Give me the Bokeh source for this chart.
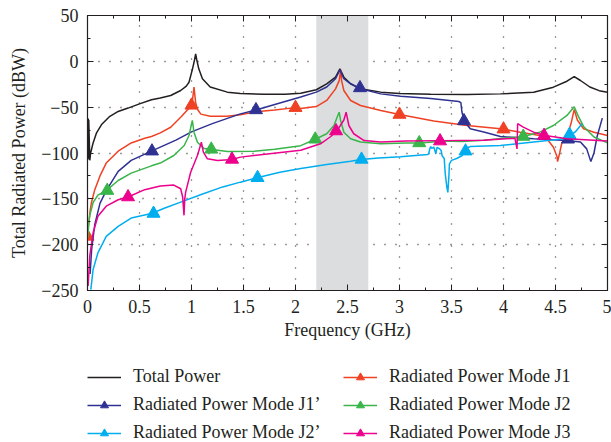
from bokeh.plotting import figure
from bokeh.layouts import column
from bokeh.models import (FixedTicker, LinearAxis, Legend, LegendItem, BoxAnnotation,
                          NumeralTickFormatter, Range1d, CustomJSTickFormatter)
from bokeh.embed import file_html
from bokeh.resources import INLINE

# ---------------- data ----------------
total_f = [0.004, 0.006, 0.008, 0.010, 0.012, 0.022, 0.03, 0.054, 0.087, 0.135, 0.215, 0.295,
           0.39, 0.5, 0.615, 0.70, 0.80, 0.896, 0.95, 0.976, 1.01, 1.03, 1.04, 1.05, 1.07, 1.105,
           1.18, 1.345, 1.47, 1.7, 1.9, 2.05, 2.20, 2.30, 2.385, 2.427, 2.465, 2.53, 2.625, 2.82,
           3.0, 3.3, 3.65, 3.97, 4.29, 4.48, 4.61, 4.68, 4.74, 4.83, 4.92, 5.0]
total_db = [-62, -107, -63, -106, -64, -108, -100, -89, -78, -69, -60, -54.7,
            -51, -46.4, -42, -40, -37.3, -31.8, -27, -22.8, -8.2, 2, 8.2, 2, -8.2, -19,
            -28, -33.6, -35, -36, -35.8, -34.8, -31, -24.5, -17.3, -8.2, -17.3, -24.5, -30, -33.6,
            -35, -36, -36.2, -35.5, -33.7, -28.2, -21.7, -16.6, -20.9, -28, -32, -33.7]

j1_f = [0.0, 0.004, 0.013, 0.025, 0.038, 0.07, 0.12, 0.18, 0.295, 0.42, 0.55, 0.615, 0.70, 0.80,
        0.896, 0.96, 0.99, 1.01, 1.024, 1.04, 1.057, 1.09, 1.18, 1.34, 1.47, 1.62, 1.8, 2.0, 2.05,
        2.20, 2.30, 2.385, 2.42, 2.435, 2.443, 2.465, 2.53, 2.625, 2.82, 3.0, 3.33, 3.65, 3.97,
        4.16, 4.35, 4.43, 4.48, 4.515, 4.52, 4.54, 4.56, 4.61, 4.65, 4.68, 4.71, 4.77, 4.87, 5.0]
j1_db = [-192, -185, -176, -163, -154, -140, -125, -111, -98, -89, -84, -82, -78, -71.9,
         -61, -53, -50, -42, -28.2, -45, -52.3, -57.6, -60, -60, -58.4, -55, -53, -50.5, -51.5,
         -49.3, -42.7, -30, -21, -9.3, -21, -31.8, -42.7, -48.2, -53.6, -58, -65, -70, -73.6,
         -77.3, -80.9, -86.4, -93.7, -104, -109.4, -100, -89.4, -82, -67.6, -52.4, -64, -73.6,
         -77.3, -80.9]
j1_mx = [0.0, 1.0, 2.0, 3.0, 4.0]
j1_my = [-191, -48, -50.5, -58, -74]

j1p_f = [0.025, 0.04, 0.07, 0.12, 0.18, 0.295, 0.42, 0.615, 0.70, 0.85, 1.0, 1.2, 1.47, 1.62,
         1.8, 2.05, 2.20, 2.30, 2.385, 2.427, 2.465, 2.53, 2.625, 2.82, 3.01, 3.3, 3.57, 3.59,
         3.60, 3.62, 3.68, 3.81, 3.97, 4.29, 4.61, 4.74, 4.80, 4.84, 4.87, 4.90, 4.95]
j1p_db = [-232, -205, -178, -155, -141, -120, -108, -98, -93.6, -86, -77, -68, -57.3, -53,
          -47, -39, -33.6, -28, -19, -9.3, -19, -24.5, -30, -35.5, -38, -40.5, -43.8, -45,
          -55, -64.5, -73.6, -77, -82, -84.5, -86.4, -88, -95.5, -109.4, -100, -82, -62]
j1p_mx = [0.62, 1.62, 2.62, 3.62, 4.62]
j1p_my = [-98, -53, -29, -65, -85]

j2_f = [0.004, 0.01, 0.022, 0.054, 0.1, 0.18, 0.295, 0.42, 0.615, 0.70, 0.83, 0.93, 0.976,
        1.008, 1.024, 1.057, 1.12, 1.18, 1.345, 1.6, 1.8, 2.05, 2.19, 2.30, 2.37, 2.40, 2.42,
        2.434, 2.465, 2.53, 2.625, 2.82, 3.06, 3.2, 3.43, 3.6, 3.81, 4.0, 4.19, 4.35, 4.48,
        4.61, 4.68, 4.72, 4.77, 4.87, 5.0]
j2_db = [-192, -180, -168, -154, -146, -141, -130, -122, -114, -111, -102.7, -91.8, -80.9,
         -64.5, -77.3, -88.2, -95, -96, -98.4, -98, -96, -92, -85, -79, -70, -61, -55.5,
         -64.7, -77.3, -84.5, -88, -90, -89, -89, -87, -87.5, -86, -84, -82, -77.3, -70,
         -59, -49.5, -60, -71, -82.6, -89]
j2_mx = [0.19, 1.19, 2.19, 3.19, 4.19]
j2_my = [-141, -96, -85, -89, -82]

j2p_f = [0.032, 0.054, 0.1, 0.18, 0.295, 0.42, 0.615, 0.744, 0.896, 1.1, 1.3, 1.47, 1.63, 1.85,
         2.05, 2.3, 2.53, 2.63, 2.8, 3.01, 3.27, 3.28, 3.29, 3.30, 3.31, 3.33, 3.35, 3.36, 3.38,
         3.40, 3.41, 3.43, 3.44, 3.455, 3.465, 3.475, 3.48, 3.5, 3.55, 3.6, 3.63, 3.66, 3.68,
         3.97, 4.29, 4.58, 4.64, 4.69, 4.755]
j2p_db = [-249, -227, -209, -191, -180, -171, -166, -160, -153.6, -145, -137, -131.8, -127, -121,
          -117, -112.5, -109, -107, -105.5, -104, -101.6, -101, -96, -93, -95, -93.5, -101, -94,
          -95, -97, -103, -106, -122.7, -137, -143, -125, -112, -108, -106, -103, -99, -94, -93,
          -91.8, -88, -84.5, -81, -77, -68]
j2p_mx = [0.635, 1.635, 2.635, 3.635, 4.635]
j2p_my = [-166, -127, -107, -98, -80]

j3_f = [0.006, 0.022, 0.054, 0.1, 0.18, 0.295, 0.39, 0.55, 0.70, 0.83, 0.896, 0.915, 0.928,
        0.935, 0.944, 0.992, 1.057, 1.095, 1.114, 1.153, 1.25, 1.39, 1.47, 1.73, 2.05, 2.24,
        2.34, 2.40, 2.465, 2.487, 2.513, 2.56, 2.66, 2.82, 3.06, 3.4, 3.81, 4.11, 4.13, 4.136,
        4.19, 4.29, 4.40, 4.61, 5.0]
j3_db = [-245, -212, -187, -169, -158, -151, -148, -140, -136, -135, -139, -148, -168,
         -150, -142.7, -121, -102.7, -88.2, -99, -106.3, -108.2, -107, -104.5, -101, -97, -90,
         -82, -75.5, -64, -55.5, -70, -79, -86.4, -88, -87, -86.5, -86, -84, -95.5, -68,
         -71.8, -77.3, -81, -84.5, -87]
j3_mx = [0.39, 1.39, 2.39, 3.39, 4.39]
j3_my = [-148, -107, -76, -87, -81]

band_left, band_right = 2.2, 2.7

x_ticks = [0, 0.5, 1, 1.5, 2, 2.5, 3, 3.5, 4, 4.5, 5]
x_minor = [i * 0.25 for i in range(21)]
y_ticks = [-250, -200, -150, -100, -50, 0, 50]
y_minor = list(range(-250, 51, 25))

# ---------------- styling ----------------
FONT = "Liberation Serif"
INK = "#231F20"
C_TOTAL = INK
C_J1 = "#EF4123"
C_J1P = "#2E3192"
C_J2 = "#39B54A"
C_J2P = "#00AEEF"
C_J3 = "#EC008C"
LW = 1.5
MS = 13

p = figure(width=611, height=362, output_backend="svg", toolbar_location=None,
           x_range=Range1d(0, 5), y_range=Range1d(-250, 50),
           min_border_left=87, min_border_right=4, min_border_top=15, min_border_bottom=72)
p.background_fill_color = "white"
p.border_fill_color = "white"
p.outline_line_color = INK
p.outline_line_width = 1.2

p.add_layout(BoxAnnotation(left=band_left, right=band_right, fill_color="#DCDDDE",
                           fill_alpha=1.0, line_alpha=0, level="underlay"))

xt = FixedTicker(ticks=x_ticks, minor_ticks=x_minor)
yt = FixedTicker(ticks=y_ticks, minor_ticks=y_minor)
p.xaxis.ticker = xt
p.yaxis.ticker = yt
p.xaxis.formatter = NumeralTickFormatter(format="0.[0]")
p.yaxis.major_label_overrides = {v: ("\u2212" + str(abs(v)) if v < 0 else str(v)) for v in y_ticks}

for ax in [p.xaxis[0], p.yaxis[0]]:
    ax.major_tick_in = 6
    ax.major_tick_out = 0
    ax.minor_tick_in = 3
    ax.minor_tick_out = 0
    ax.axis_line_color = INK
    ax.major_tick_line_color = INK
    ax.minor_tick_line_color = INK
    ax.major_label_text_font = FONT
    ax.major_label_text_font_size = "18px"
    ax.major_label_text_color = INK
    ax.axis_label_text_font = FONT
    ax.axis_label_text_font_size = "18px"
    ax.axis_label_text_font_style = "normal"
    ax.axis_label_text_color = INK
p.xaxis.axis_label = "Frequency (GHz)"
p.yaxis.axis_label = "Total Radiated Power (dBW)"
p.xaxis.major_label_standoff = 9
p.yaxis.major_label_standoff = 9
p.xaxis.axis_label_standoff = 4
p.yaxis.axis_label_standoff = 9

for loc, tk in [("above", xt), ("right", yt)]:
    ax = LinearAxis(ticker=tk, formatter=CustomJSTickFormatter(code="return ''"),
                    major_tick_in=6, major_tick_out=0, minor_tick_in=3, minor_tick_out=0,
                    major_label_standoff=0, axis_line_color=INK,
                    major_tick_line_color=INK, minor_tick_line_color=INK)
    p.add_layout(ax, loc)

p.xgrid.ticker = xt
p.ygrid.ticker = yt
for g in [p.xgrid[0], p.ygrid[0]]:
    g.grid_line_color = INK
    g.grid_line_width = 1.3
    g.grid_line_dash = "1 10"
    g.grid_line_alpha = 0.9

p.line(total_f, total_db, line_color=C_TOTAL, line_width=LW)

series = [
    ("Radiated Power Mode J1", j1_f, j1_db, j1_mx, j1_my, C_J1),
    ("Radiated Power Mode J1\u2019", j1p_f, j1p_db, j1p_mx, j1p_my, C_J1P),
    ("Radiated Power Mode J2", j2_f, j2_db, j2_mx, j2_my, C_J2),
    ("Radiated Power Mode J2\u2019", j2p_f, j2p_db, j2p_mx, j2p_my, C_J2P),
    ("Radiated Power Mode J3", j3_f, j3_db, j3_mx, j3_my, C_J3),
]
for name, f, db, mx, my, c in series:
    p.line(f, db, line_color=c, line_width=LW)
    p.scatter(mx, my, marker="triangle", size=MS, fill_color=c, line_color=c)

# ---------------- legend panel (proxy glyphs kept outside the visible range) ----------------
q = figure(width=611, height=80, output_backend="svg", toolbar_location=None,
           x_axis_type=None, y_axis_type=None, x_range=Range1d(0, 1), y_range=Range1d(0, 1),
           min_border_left=0, min_border_right=0, min_border_top=0, min_border_bottom=0)
q.outline_line_color = None
q.grid.visible = False
q.background_fill_color = "white"
q.border_fill_color = "white"

proxy_x = [-10, -9]
proxy_y = [-10, -9]
leg_renderers = {}
leg_renderers["Total Power"] = [q.line(proxy_x, proxy_y, line_color=C_TOTAL, line_width=LW)]
for name, f, db, mx, my, c in series:
    leg_renderers[name] = [q.line(proxy_x, proxy_y, line_color=c, line_width=LW),
                           q.scatter(proxy_x, proxy_y, marker="triangle", size=MS - 1,
                                     fill_color=c, line_color=c)]

order = ["Total Power", "Radiated Power Mode J1\u2019", "Radiated Power Mode J2\u2019",
         "Radiated Power Mode J1", "Radiated Power Mode J2", "Radiated Power Mode J3"]
legend = Legend(items=[LegendItem(label=l, renderers=leg_renderers[l]) for l in order],
                location=(0, -1), ncols=2, orientation="vertical",
                label_text_font=FONT, label_text_font_size="18px", label_text_color=INK,
                glyph_width=34, glyph_height=20, label_height=20, label_width=203,
                spacing=7, padding=0, margin=0,
                label_standoff=12, border_line_alpha=0, background_fill_alpha=0)
q.add_layout(legend, "center")

layout = column(p, q, spacing=0)
open("out.html", "w").write(file_html(layout, INLINE))
